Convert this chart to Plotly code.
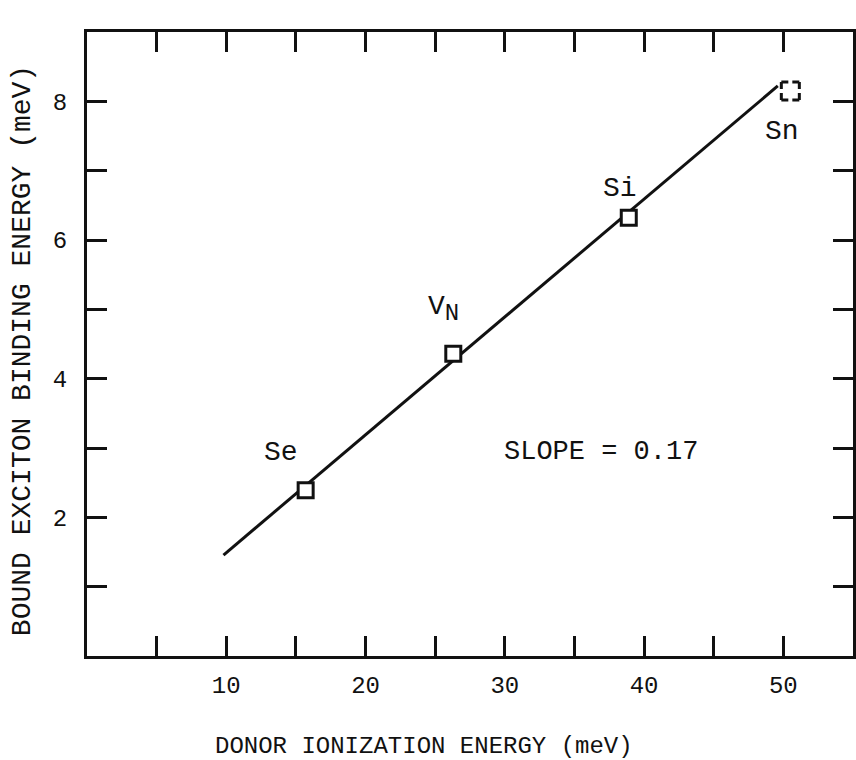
import plotly.graph_objects as go

# Donor species and their measured energies (meV)
donors = ["Se", "V<sub><span style='font-size:24px'>N</span></sub>", "Si", "Sn"]
ionization_energy = [15.7, 26.3, 38.9, 50.5]
binding_energy = [2.39, 4.36, 6.32, 8.15]
tentative = [False, False, False, True]   # Sn drawn with a broken outline

# Positions of the species labels
label_x = [13.9, 25.6, 38.3, 49.9]
label_y = [2.94, 5.0, 6.75, 7.56]

# Linear relation drawn through the points
slope = 0.17
intercept = -0.21
fit_x = [9.8, 49.6]

# Axis ticks (labelled majors, unlabelled minors in between)
x_tickvals = [10, 20, 30, 40, 50]
x_minor_step = 5
y_tickvals = [2, 4, 6, 8]
y_minor_step = 1

FONT = "Liberation Mono"
INK = "#111111"

fig = go.Figure()

fig.add_trace(go.Scatter(
    x=fit_x,
    y=[intercept + slope * v for v in fit_x],
    mode="lines",
    line=dict(color=INK, width=3),
    hoverinfo="skip",
    showlegend=False,
))

solid_x = [x for x, t in zip(ionization_energy, tentative) if not t]
solid_y = [y for y, t in zip(binding_energy, tentative) if not t]
fig.add_trace(go.Scatter(
    x=solid_x, y=solid_y,
    mode="markers",
    marker=dict(symbol="square", size=15, color="white",
                line=dict(color=INK, width=3)),
    showlegend=False,
))

# Tentative point: square with broken outline
for x, y, t in zip(ionization_energy, binding_energy, tentative):
    if t:
        fig.add_shape(
            type="rect", xref="x", yref="y",
            xsizemode="pixel", ysizemode="pixel",
            xanchor=x, yanchor=y, x0=-9, x1=9, y0=-9, y1=9,
            line=dict(color=INK, width=3, dash="7px,4px,7px,0px"),
            fillcolor="white",
        )

for name, lx, ly in zip(donors, label_x, label_y):
    fig.add_annotation(x=lx, y=ly, text=name, showarrow=False,
                       font=dict(family=FONT, size=28, color=INK))

fig.add_annotation(x=36.9, y=2.94, text="SLOPE = 0.17", showarrow=False,
                   font=dict(family=FONT, size=27, color=INK))

# Axis titles
fig.add_annotation(xref="paper", yref="paper", x=0.44, y=-0.145,
                   text="DONOR IONIZATION ENERGY (meV)", showarrow=False,
                   yanchor="middle",
                   font=dict(family=FONT, size=24, color=INK))
fig.add_annotation(xref="paper", yref="paper", x=-0.085, y=0.49,
                   text="BOUND EXCITON BINDING ENERGY (meV)", showarrow=False,
                   textangle=-90, xanchor="center", yanchor="middle",
                   font=dict(family=FONT, size=28, color=INK))

axis_common = dict(
    showgrid=False, zeroline=False, showline=True,
    linecolor=INK, linewidth=3,
    ticks="inside", tickwidth=3, tickcolor=INK, ticklen=20,
    mirror="ticks",
    tickfont=dict(family=FONT, size=24, color=INK),
)

fig.update_xaxes(range=[0, 55], tickmode="array", tickvals=x_tickvals,
                 minor=dict(ticks="inside", tick0=0, dtick=x_minor_step,
                            ticklen=20, tickwidth=3, tickcolor=INK),
                 ticklabelstandoff=5, **axis_common)
fig.update_yaxes(range=[0, 9], tickmode="array", tickvals=y_tickvals,
                 minor=dict(ticks="inside", tick0=0, dtick=y_minor_step,
                            ticklen=20, tickwidth=3, tickcolor=INK),
                 ticklabelstandoff=12, **axis_common)

fig.update_layout(
    width=856, height=760,
    margin=dict(l=87, r=0, t=32, b=104),
    paper_bgcolor="white", plot_bgcolor="white",
    font=dict(family=FONT, color=INK),
)

fig.write_html("out.html")
